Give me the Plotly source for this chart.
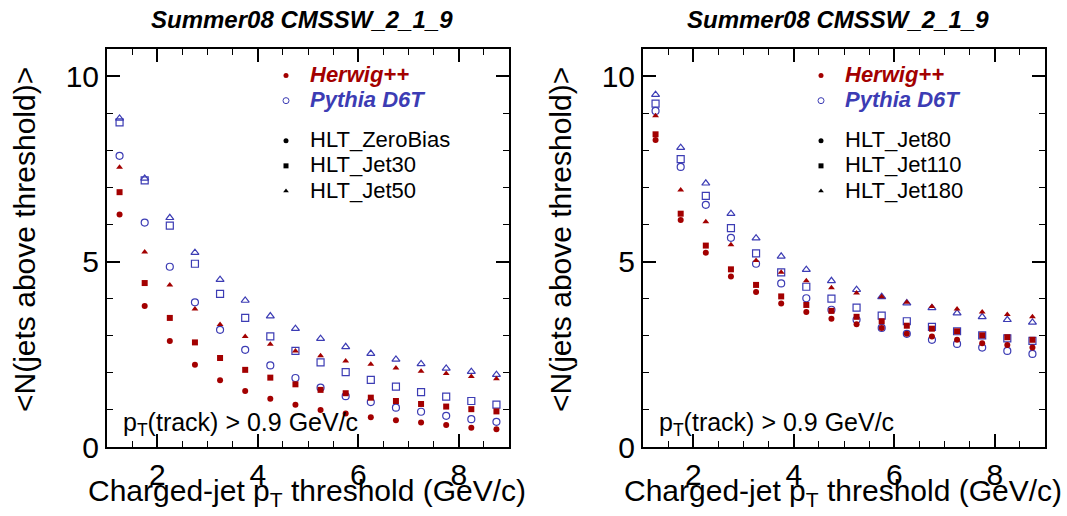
import plotly.graph_objects as go

# Charged-jet pT threshold bin centres (GeV/c)
pt_threshold = [1.25, 1.75, 2.25, 2.75, 3.25, 3.75, 4.25, 4.75,
                5.25, 5.75, 6.25, 6.75, 7.25, 7.75, 8.25, 8.75]

# Left panel: low-threshold triggers
herwig_zerobias = [6.27, 3.80, 2.86, 2.22, 1.80, 1.51, 1.30, 1.14,
                   1.00, 0.90, 0.80, 0.72, 0.66, 0.59, 0.52, 0.48]
herwig_jet30 = [6.87, 4.42, 3.48, 2.82, 2.40, 2.08, 1.87, 1.69,
                1.54, 1.45, 1.33, 1.24, 1.16, 1.09, 1.02, 0.96]
herwig_jet50 = [7.54, 5.26, 4.37, 3.72, 3.30, 2.98, 2.77, 2.59,
                2.46, 2.32, 2.23, 2.13, 2.04, 1.98, 1.90, 1.84]
pythia_zerobias = [7.85, 6.05, 4.86, 3.90, 3.16, 2.62, 2.20, 1.86,
                   1.60, 1.37, 1.21, 1.06, 0.95, 0.84, 0.75, 0.68]
pythia_jet30 = [8.75, 7.19, 5.97, 4.94, 4.13, 3.48, 2.98, 2.59,
                2.28, 2.02, 1.81, 1.63, 1.48, 1.36, 1.24, 1.14]
pythia_jet50 = [8.86, 7.24, 6.18, 5.24, 4.51, 3.95, 3.53, 3.19,
                2.92, 2.70, 2.52, 2.36, 2.24, 2.12, 2.03, 1.95]

# Right panel: high-threshold triggers
herwig_jet80 = [8.28, 6.12, 5.24, 4.60, 4.18, 3.87, 3.64, 3.46,
                3.31, 3.21, 3.05, 2.98, 2.89, 2.80, 2.75, 2.68]
herwig_jet110 = [8.43, 6.29, 5.43, 4.79, 4.37, 4.06, 3.83, 3.67,
                 3.51, 3.39, 3.27, 3.19, 3.12, 3.01, 2.96, 2.89]
herwig_jet180 = [8.93, 6.93, 6.07, 5.45, 5.03, 4.71, 4.48, 4.29,
                 4.15, 4.05, 3.90, 3.79, 3.72, 3.64, 3.57, 3.51]
pythia_jet80 = [9.06, 7.55, 6.53, 5.64, 4.94, 4.41, 4.01, 3.70,
                3.43, 3.21, 3.05, 2.89, 2.78, 2.68, 2.59, 2.51]
pythia_jet110 = [9.26, 7.76, 6.77, 5.90, 5.22, 4.71, 4.32, 4.00,
                 3.76, 3.54, 3.39, 3.24, 3.12, 3.01, 2.93, 2.86]
pythia_jet180 = [9.50, 8.07, 7.11, 6.29, 5.63, 5.14, 4.78, 4.48,
                 4.24, 4.05, 3.88, 3.75, 3.61, 3.51, 3.43, 3.36]

left_triggers = ["HLT_ZeroBias", "HLT_Jet30", "HLT_Jet50"]
right_triggers = ["HLT_Jet80", "HLT_Jet110", "HLT_Jet180"]

RED = "#a30000"
BLUE = "#3c3cb4"
FONT = "Liberation Sans"
W, H = 1067, 516
shapes = ["circle", "square", "triangle-up"]

fig = go.Figure()


def add_panel(xa, ya, pythia_sets, herwig_sets, names):
    for sym, vals, nm in zip(shapes, pythia_sets, names):
        fig.add_trace(go.Scatter(
            x=pt_threshold, y=vals, mode="markers", xaxis=xa, yaxis=ya,
            name="Pythia D6T " + nm, showlegend=False,
            marker=dict(symbol=sym + "-open", size=7, color=BLUE,
                        line=dict(width=1.2, color=BLUE))))
    for sym, vals, nm in zip(shapes, herwig_sets, names):
        fig.add_trace(go.Scatter(
            x=pt_threshold, y=vals, mode="markers", xaxis=xa, yaxis=ya,
            name="Herwig++ " + nm, showlegend=False,
            marker=dict(symbol=sym, size=6, color=RED, line=dict(width=0))))


add_panel("x", "y",
          [pythia_zerobias, pythia_jet30, pythia_jet50],
          [herwig_zerobias, herwig_jet30, herwig_jet50], left_triggers)
add_panel("x2", "y2",
          [pythia_jet80, pythia_jet110, pythia_jet180],
          [herwig_jet80, herwig_jet110, herwig_jet180], right_triggers)


def big(text):
    return '<span style="font-size:22px">%s</span>' % text


# Legend keys (generator = colour, trigger = marker shape)
def add_keys(legend_id, names):
    fig.add_trace(go.Scatter(
        x=[None], y=[None], mode="markers", legend=legend_id,
        legendgroup=legend_id + "gen",
        name='<b><i><span style="color:%s;font-size:22px">Herwig++</span></i></b>' % RED,
        marker=dict(symbol="circle", size=5, color=RED)))
    fig.add_trace(go.Scatter(
        x=[None], y=[None], mode="markers", legend=legend_id,
        legendgroup=legend_id + "gen",
        name='<b><i><span style="color:%s;font-size:22px">Pythia D6T</span></i></b>' % BLUE,
        marker=dict(symbol="circle-open", size=6, color=BLUE,
                    line=dict(width=1, color=BLUE))))
    for sym, nm in zip(shapes, names):
        fig.add_trace(go.Scatter(
            x=[None], y=[None], mode="markers", legend=legend_id,
            legendgroup=legend_id + "trg", name=big(nm),
            marker=dict(symbol=sym, size=5, color="black")))


add_keys("legend", left_triggers)
add_keys("legend2", right_triggers)


def axis(domain, rng, dtick, minor_dtick, anchor):
    return dict(
        domain=domain, range=rng, anchor=anchor, automargin=False,
        showline=True, linecolor="black", linewidth=2, mirror="allticks",
        ticks="inside", ticklen=13, tickwidth=1.5, tickcolor="black",
        tick0=0, dtick=dtick,
        minor=dict(ticks="inside", ticklen=6, tickwidth=1.2,
                   tickcolor="black", dtick=minor_dtick, showgrid=False),
        showgrid=False, zeroline=False,
        tickfont=dict(family=FONT, size=30, color="black"))


ydom = [1 - 447 / H, 1 - 49 / H]
left_dom = [107 / W, 509 / W]
right_dom = [643 / W, 1045 / W]

legend_style = dict(font=dict(family=FONT, size=17, color="black"),
                    bgcolor="rgba(0,0,0,0)", borderwidth=0,
                    traceorder="grouped", tracegroupgap=15,
                    itemsizing="trace", itemwidth=38,
                    xanchor="left", yanchor="top")

annotations = []
for x0 in (0, 536):
    annotations += [
        dict(text="<b><i>Summer08 CMSSW_2_1_9</i></b>", x=(302 + x0) / W,
             y=1 - 20 / H, xref="paper", yref="paper", showarrow=False,
             xanchor="center", yanchor="middle",
             font=dict(family=FONT, size=24, color="black")),
        dict(text="Charged-jet p<sub>T</sub> threshold (GeV/c)",
             x=(307 + x0) / W, y=1 - 492 / H, xref="paper", yref="paper",
             showarrow=False, xanchor="center", yanchor="middle",
             font=dict(family=FONT, size=30, color="black")),
        dict(text="&lt;N(jets above threshold)&gt;", x=(25 + x0) / W,
             y=1 - 240 / H, xref="paper", yref="paper", showarrow=False,
             textangle=-90, xanchor="center", yanchor="middle",
             font=dict(family=FONT, size=30, color="black")),
        dict(text="p<sub>T</sub>(track) &gt; 0.9 GeV/c", x=(121 + x0) / W,
             y=1 - 424 / H, xref="paper", yref="paper", showarrow=False,
             xanchor="left", yanchor="middle",
             font=dict(family=FONT, size=25, color="black")),
    ]

fig.update_layout(
    width=W, height=H,
    margin=dict(l=0, r=0, t=0, b=0, autoexpand=False),
    paper_bgcolor="white", plot_bgcolor="white",
    font=dict(family=FONT, color="black"),
    xaxis=axis(left_dom, [1, 9], 2, 0.5, "y"),
    yaxis=axis(ydom, [0, 10.73], 5, 1, "x"),
    xaxis2=axis(right_dom, [1, 9], 2, 0.5, "y2"),
    yaxis2=axis(ydom, [0, 10.73], 5, 1, "x2"),
    legend=dict(x=262 / W, y=1 - 58 / H, **legend_style),
    legend2=dict(x=797 / W, y=1 - 58 / H, **legend_style),
    annotations=annotations,
)

fig.write_html("out.html")
